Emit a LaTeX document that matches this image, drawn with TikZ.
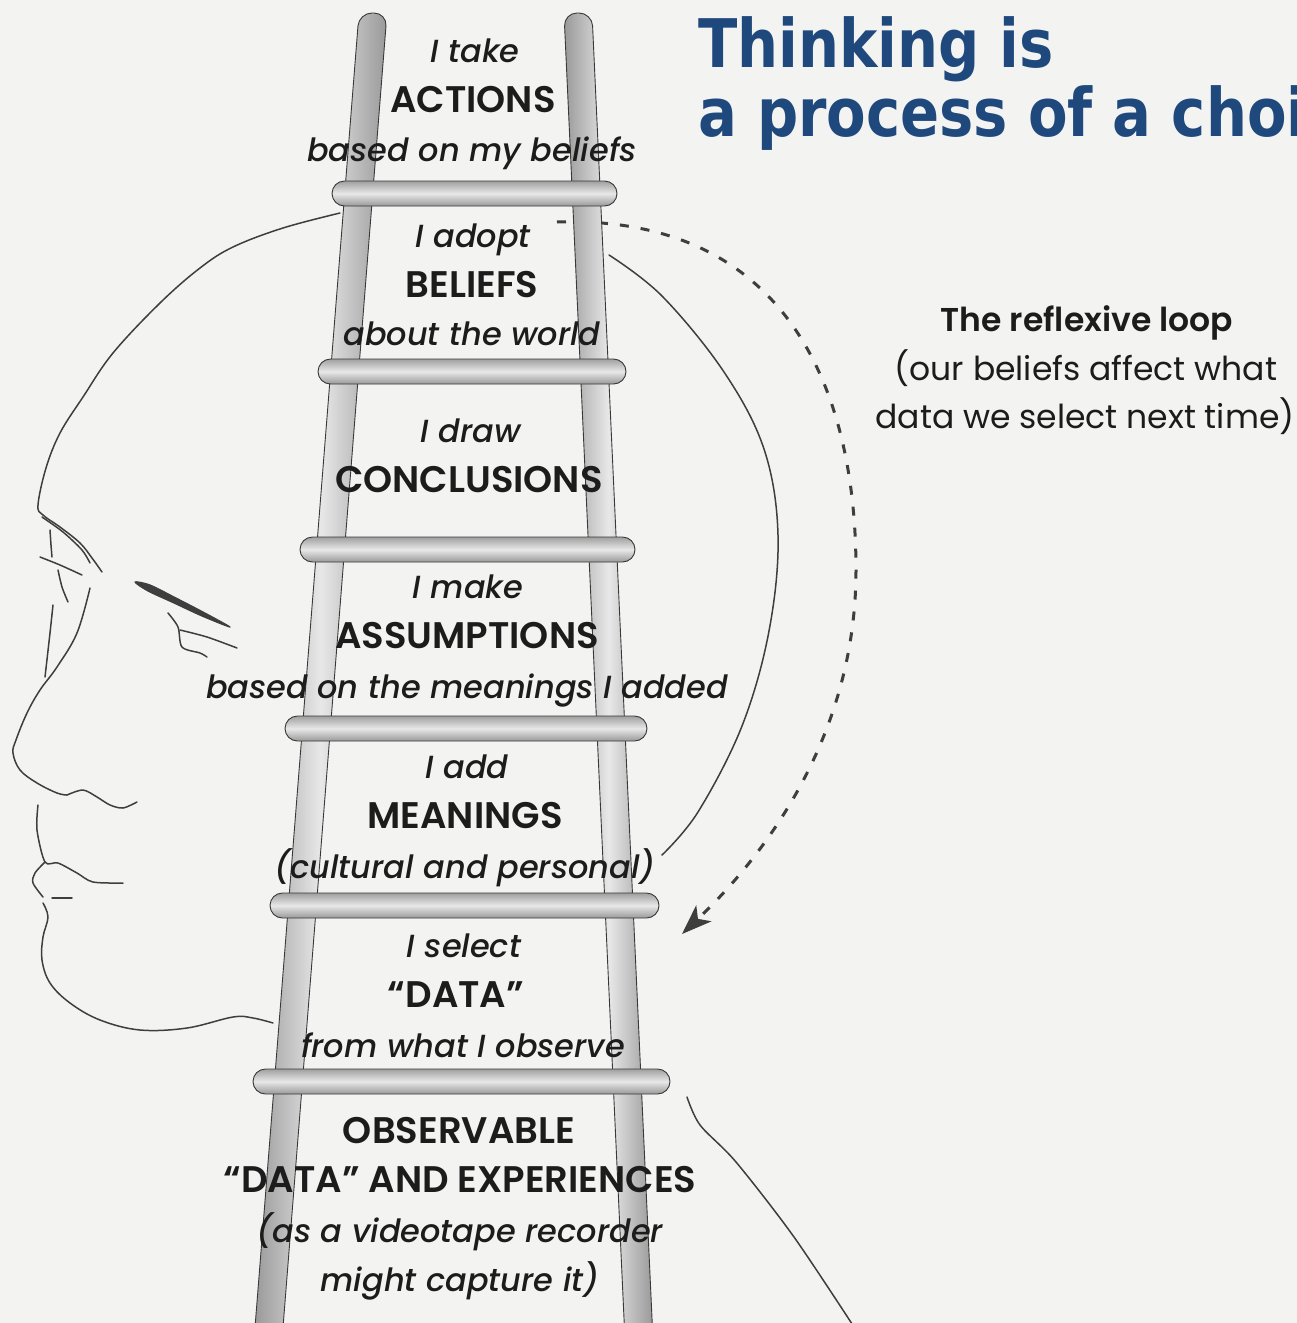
\documentclass[tikz,border=0pt]{standalone}
\usepackage{fontspec}
\setmainfont{Poppins}[BoldFont={* SemiBold}, ItalicFont={* Medium Italic}]
\newfontfamily\titlefont[FakeStretch=0.86]{DejaVu Sans}
\usetikzlibrary{arrows.meta}
\definecolor{paper}{RGB}{243,243,241}
\definecolor{titleblue}{RGB}{31,73,125}
\definecolor{ink}{RGB}{28,28,28}
\tikzset{
  rail/.style={draw=gray!45!black, line width=0.9pt, left color=gray!80, right color=gray!80, middle color=gray!18, rounded corners=13pt},
  rung/.style={draw=gray!45!black, line width=0.9pt, top color=gray!75, bottom color=gray!80, middle color=gray!18, rounded corners=12.5pt},
  itl/.style={anchor=base, inner sep=0pt, text=ink, font=\fontsize{32}{32}\selectfont\itshape},
  capl/.style={anchor=base, inner sep=0pt, text=ink, font=\fontsize{37}{37}\selectfont\bfseries},
  loopt/.style={anchor=base, inner sep=0pt, text=ink, font=\fontsize{33}{33}\selectfont},
  loopb/.style={anchor=base, inner sep=0pt, text=ink, font=\fontsize{33}{33}\selectfont\bfseries},
  ttl/.style={anchor=base west, inner sep=0pt, text=titleblue, font=\fontsize{67}{67}\titlefont\bfseries},
  headline/.style={draw=ink!85, line width=1.5pt, line cap=round, line join=round},
  loopline/.style={draw=ink!85, line width=3pt, dash pattern=on 9pt off 12pt, -{Stealth[length=30pt,width=22pt,inset=8pt]}}
}
\begin{document}
\begin{tikzpicture}[x=1pt,y=-1pt]
\useasboundingbox (0,0) rectangle (1297,1323);
\fill[paper] (0,0) rectangle (1297,1323);
\clip (0,0) rectangle (1297,1323);

% head outline
\draw[headline] plot[smooth, tension=0.6] coordinates {(340,213) (283,228) (233,247) (200,268) (160,303) (113,353) (83,397) (60,433) (46,468) (38,505) (43,515) (60,527) (80,543) (92,558) (102,572)};
\draw[headline] plot[smooth] coordinates {(42,517) (63,532) (82,550) (90,563)};
\draw[headline] plot[smooth] coordinates {(50,530) (51,545) (52,557)};
\draw[headline] plot[smooth] coordinates {(40,557) (60,565) (82,575)};
\draw[headline] plot[smooth] coordinates {(58,570) (62,587) (68,602)};
\draw[headline] plot[smooth, tension=0.6] coordinates {(90,588) (77,633) (57,667) (40,690) (27,713) (16,740) (13,753) (20,770) (37,783) (57,793) (67,795)};
\draw[headline] plot[smooth] coordinates {(53,605) (50,633) (45,677)};
\draw[headline] plot[smooth] coordinates {(67,795) (83,790) (97,797) (110,805) (123,808) (137,802)};
\draw[headline] plot[smooth] coordinates {(38,805) (37,830) (45,862) (58,863) (77,873) (93,882) (123,883)};
\draw[headline] plot[smooth] coordinates {(45,862) (35,873) (33,883) (43,897)};
\draw[headline] (52,898) -- (72,898);
\draw[headline] plot[smooth, tension=0.6] coordinates {(43,903) (48,917) (43,937) (42,960) (50,983) (70,1003) (100,1020) (140,1030) (187,1028) (233,1017) (253,1018) (273,1023)};
\filldraw[headline, line width=1.2pt, fill=ink!85] plot[smooth cycle] coordinates {(135,582) (150,585) (176,598) (203,612) (230,627) (202,616) (174,603) (148,591)};
\draw[headline] plot[smooth] coordinates {(168,613) (178,627) (182,647) (200,653) (207,657)};
\draw[headline] plot[smooth] coordinates {(180,630) (207,637) (237,648)};
\draw[headline] plot[smooth, tension=0.6] coordinates {(609,255) (662,296) (724,372) (764,449) (778,535) (769,631) (742,726) (698,812) (662,855)};
\draw[headline] plot[smooth] coordinates {(687,1097) (700,1125) (736,1162) (794,1237) (856,1330)};

% reflexive loop
\coordinate (loopstart) at (557,222);
\coordinate (looptip) at (682,934);
\draw[loopline] (loopstart) .. controls (780,215) and (856,380) .. (856,570) .. controls (856,740) and (760,860) .. (looptip);

% ladder rails
\shade[rail] (359,13) -- (387,13) -- (282,1340) -- (254,1340) -- cycle;
\shade[rail] (564,13) -- (592,13) -- (653,1340) -- (625,1340) -- cycle;
% rungs
\shade[rung] (332,181) rectangle (617,206);
\shade[rung] (318,359) rectangle (626,384);
\shade[rung] (300,537) rectangle (635,562);
\shade[rung] (285,716) rectangle (647,741);
\shade[rung] (270,893) rectangle (659,918);
\shade[rung] (253,1069) rectangle (670,1094);

% ladder texts
\node[itl]  (a1) at (475,62)  {I take};
\node[capl] (a2) at (473,112) {ACTIONS};
\node[itl]  (a3) at (472,161) {based on my beliefs};
\node[itl]  (b1) at (473,247) {I adopt};
\node[capl] (b2) at (472,297) {BELIEFS};
\node[itl]  (b3) at (472,345) {about the world};
\node[itl]  (c1) at (471,442) {I draw};
\node[capl] (c2) at (469,492) {CONCLUSIONS};
\node[itl]  (d1) at (468,598) {I make};
\node[capl] (d2) at (467,648) {ASSUMPTIONS};
\node[itl]  (d3) at (467,698) {based on the meanings I added};
\node[itl]  (e1) at (467,778) {I add};
\node[capl] (e2) at (465,828) {MEANINGS};
\node[itl]  (e3) at (465,878) {(cultural and personal)};
\node[itl]  (f1) at (464,957) {I select};
\node[capl] (f2) at (456,1007) {“DATA”};
\node[itl]  (f3) at (463,1057) {from what I observe};
\node[capl] (g1) at (459,1143) {OBSERVABLE};
\node[capl] (g2) at (460,1192) {“DATA” AND EXPERIENCES};
\node[itl]  (g3) at (460,1242) {(as a videotape recorder};
\node[itl]  (g4) at (460,1291) {might capture it)};

% loop label
\node[loopb] (l1) at (1087,331) {The reflexive loop};
\node[loopt] (l2) at (1086,380) {(our beliefs affect what};
\node[loopt] (l3) at (1085,428) {data we select next time)};

% title
\node[ttl] (t1) at (698,67)  {Thinking is};
\node[ttl] (t2) at (698,136) {a process of a choice};
\end{tikzpicture}
\end{document}
